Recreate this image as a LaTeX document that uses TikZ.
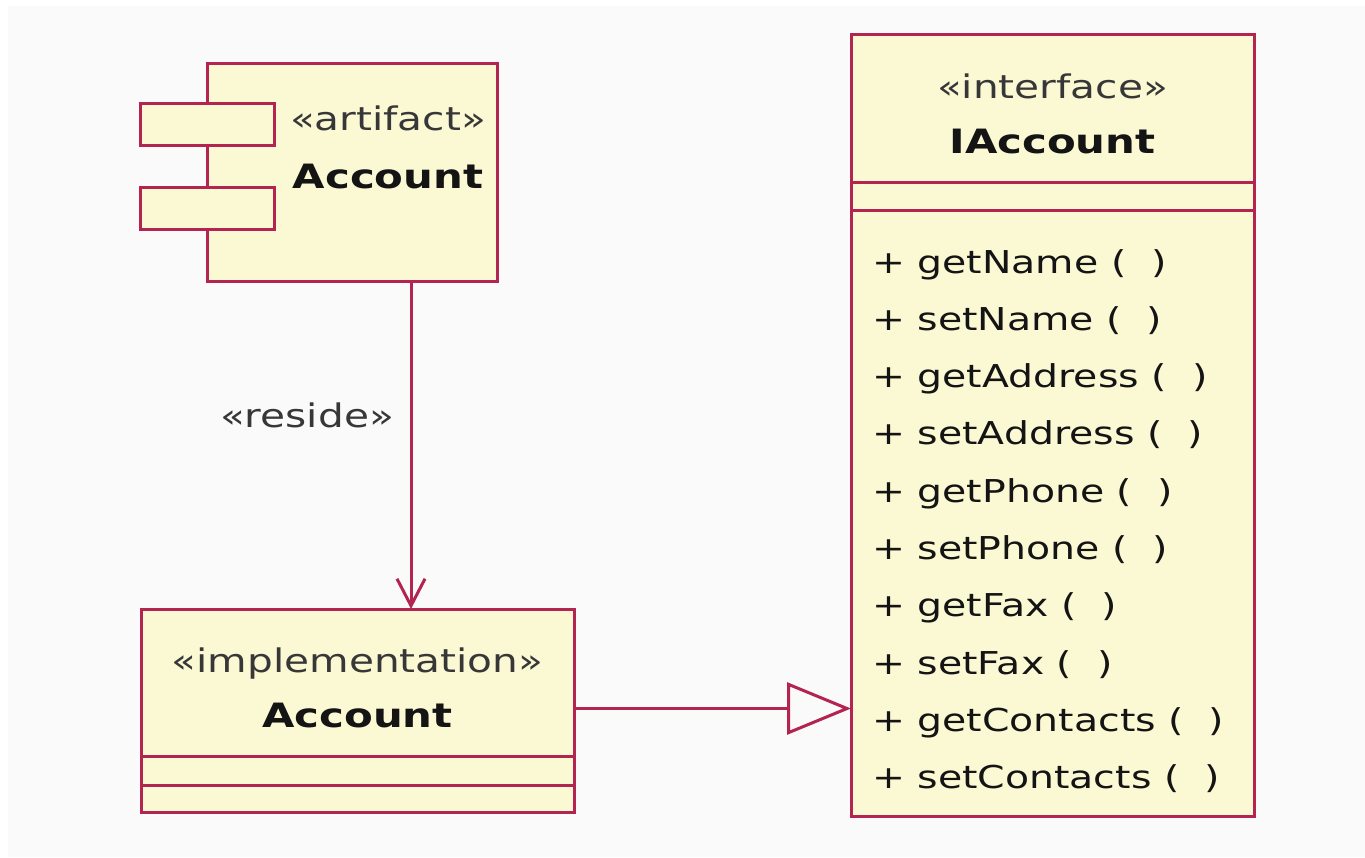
\documentclass[tikz,border=0pt]{standalone}
\usepackage{fontspec}
\newfontfamily\umlfont{DejaVu Sans}[FakeStretch=1.25]
\usetikzlibrary{arrows.meta}
\definecolor{umlline}{RGB}{180,36,80}
\definecolor{umlfill}{RGB}{251,248,212}
\definecolor{canvas}{RGB}{250,250,250}
\definecolor{ink}{RGB}{20,20,20}
\definecolor{stereoink}{RGB}{55,55,55}
\begin{document}
\begin{tikzpicture}[x=1pt,y=-1pt,
  umlbox/.style={draw=umlline, fill=umlfill, line width=3pt, inner sep=0pt, outer sep=0pt},
  stereo/.style={anchor=base, inner sep=0pt, text=stereoink, font=\umlfont\fontsize{32.5}{38}\selectfont},
  title/.style={anchor=base, inner sep=0pt, text=ink, font=\umlfont\bfseries\fontsize{33.5}{38}\selectfont},
  member/.style={anchor=base west, inner sep=0pt, text=ink, font=\umlfont\fontsize{31.5}{36}\selectfont},
  link/.style={draw=umlline, line width=3pt},
  sep/.style={draw=umlline, line width=3pt},
]
% page and canvas
\useasboundingbox (0,0) rectangle (1365,857);
\fill[white] (0,0) rectangle (1365,857);
\fill[canvas] (8,6) rectangle (1365,857);

% artifact (component notation)
\node[umlbox, minimum width=290pt, minimum height=218pt] (art) at (352,172) {};
\node[umlbox, minimum width=134pt, minimum height=42pt] (tabA) at (207,124) {};
\node[umlbox, minimum width=134pt, minimum height=42pt] (tabB) at (207,208) {};
\node[stereo] (artStereo) at (388,130) {«artifact»};
\node[title] (artName) at (388,188) {Account};

% implementation class
\node[umlbox, minimum width=433pt, minimum height=203pt] (impl) at (357.5,710.5) {};
\draw[sep] (impl.west |- 0,756) -- (impl.east |- 0,756);
\draw[sep] (impl.west |- 0,785) -- (impl.east |- 0,785);
\node[stereo] (implStereo) at (357.5,672) {«implementation»};
\node[title] (implName) at (357.5,727) {Account};

% interface
\node[umlbox, minimum width=403pt, minimum height=782pt] (iface) at (1052.5,425) {};
\draw[sep] (iface.west |- 0,182) -- (iface.east |- 0,182);
\draw[sep] (iface.west |- 0,210) -- (iface.east |- 0,210);
\node[stereo] (ifaceStereo) at (1052.5,98) {«interface»};
\node[title] (ifaceName) at (1052.5,153) {IAccount};
\foreach \op [count=\i from 0] in {getName,setName,getAddress,setAddress,getPhone,setPhone,getFax,setFax,getContacts,setContacts}
  \node[member] (op\i) at (872,{273+\i*57.3}) {+ \op\ (~~)};

% reside dependency
\draw[link, -{Straight Barb[length=27pt,width=28pt]}] ([xshift=59pt]art.south) -- ([xshift=59pt]art.south |- impl.north);
\node[stereo] (resideLbl) at (307,427) {«reside»};

% realization
\draw[link, -{Triangle[open,length=64pt,width=52pt,fill=canvas]}] ([yshift=2pt]impl.east) -- ([yshift=2pt]impl.east -| iface.west);
\end{tikzpicture}
\end{document}
